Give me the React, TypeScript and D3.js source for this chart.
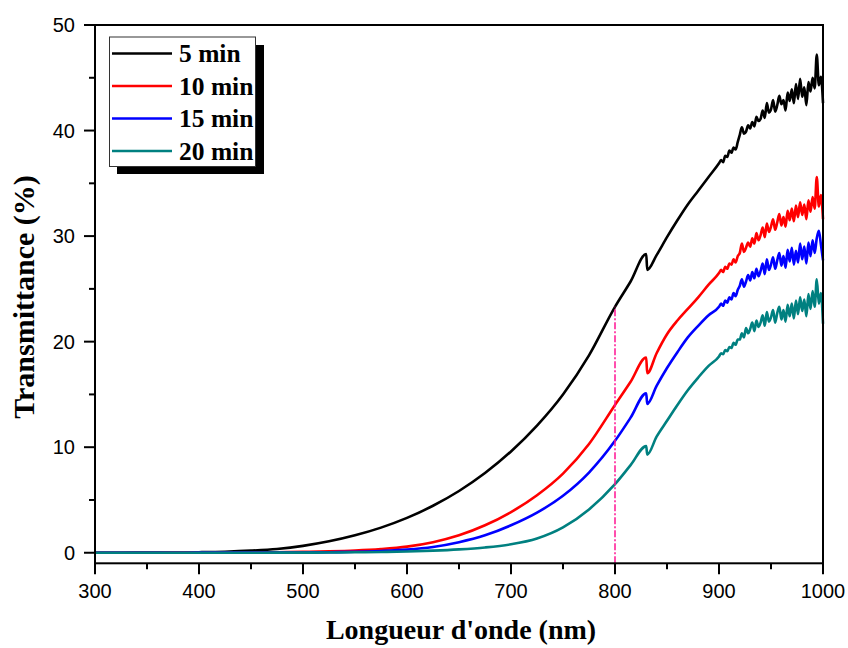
import React from "react"
import { scaleLinear, line, curveMonotoneX } from "d3"

// wavelengths (nm): 25 nm steps where the curves are smooth, 2 nm where they get noisy
const wavelengths = [
  300, 325, 350, 375, 400, 425, 450, 475, 500, 525, 550, 575, 600, 625, 650, 675, 700, 725, 750, 775, 800, 815, 830, 831,
  840, 850, 860, 870, 880, 890,
  900, 902, 904, 906, 908, 910, 912, 914, 916, 918, 920, 922, 924, 926, 928, 930, 932, 934, 936, 938, 940, 942, 944, 946, 948,
  950, 952, 954, 956, 958, 960, 962, 964, 966, 968, 970, 972, 974, 976, 978, 980, 982, 984, 986, 988, 990, 992, 994, 996, 998, 1000,
]

const min5 = [
  0, 0.005, 0.01, 0.02, 0.05, 0.1, 0.2, 0.36, 0.65, 1.08, 1.65, 2.38, 3.3, 4.45, 5.85, 7.55, 9.6, 12.05, 15.0, 18.7, 23.3, 25.7, 28.3, 26.8,
  28.2, 29.9, 31.5, 33.0, 34.3, 35.6,
  36.9, 37.2, 37.0, 37.6, 37.5, 38.1, 37.9, 38.4, 38.2, 38.9, 39.6, 40.3, 39.7, 39.9, 40.5, 40.2, 40.8, 40.4, 41.3, 40.9, 41.1, 41.9, 41.2, 42.6, 41.7,
  42.0, 42.9, 41.8, 42.4, 43.3, 42.5, 42.9, 41.9, 43.6, 42.8, 43.9, 42.6, 44.4, 43.0, 44.9, 43.2, 44.1, 42.4, 44.6, 43.7, 45.0, 44.0, 47.2, 44.3, 45.1, 42.6,
]
const min10 = [
  0, 0, 0, 0.01, 0.01, 0.02, 0.03, 0.05, 0.08, 0.13, 0.21, 0.35, 0.58, 1.0, 1.65, 2.6, 3.85, 5.45, 7.5, 10.3, 14.0, 16.2, 18.5, 17.0,
  18.9, 20.7, 22.0, 23.1, 24.2, 25.4,
  26.5, 26.8, 26.6, 27.1, 26.9, 27.4, 27.3, 27.8, 27.5, 28.1, 28.4, 29.3, 28.5, 28.9, 29.4, 29.0, 29.8, 29.3, 30.3, 29.6, 30.1, 30.8, 29.9, 31.2, 30.4,
  30.9, 31.6, 30.6, 31.3, 32.1, 31.0, 31.8, 30.9, 32.4, 31.5, 32.6, 31.4, 32.9, 31.8, 33.2, 32.0, 33.0, 31.6, 33.4, 32.3, 33.7, 32.6, 35.6, 32.8, 33.9, 31.6,
]
const min15 = [
  0, 0, 0, 0, 0.01, 0.01, 0.01, 0.02, 0.03, 0.05, 0.09, 0.17, 0.3, 0.55, 1.0, 1.65, 2.6, 3.8, 5.4, 7.6, 10.6, 12.8, 15.1, 14.1,
  15.8, 17.5, 19.0, 20.4, 21.5, 22.5,
  23.3, 23.6, 23.4, 23.9, 23.7, 24.2, 24.0, 24.6, 24.3, 24.9, 25.3, 25.9, 25.2, 25.7, 26.3, 25.8, 26.6, 26.0, 26.9, 26.2, 26.7, 27.4, 26.4, 27.8, 26.8,
  27.3, 28.0, 26.9, 27.7, 28.4, 27.2, 28.1, 27.0, 28.7, 27.6, 28.9, 27.3, 28.6, 27.5, 29.3, 27.8, 29.0, 27.4, 29.4, 28.1, 29.6, 28.4, 29.8, 30.5, 29.2, 27.7,
]
const min20 = [
  0, 0, 0, 0, 0, 0, 0, 0.01, 0.01, 0.02, 0.04, 0.07, 0.12, 0.2, 0.32, 0.5, 0.8, 1.35, 2.4, 4.1, 6.5, 8.3, 10.1, 9.3,
  11.0, 12.5, 14.0, 15.4, 16.6, 17.7,
  18.6, 18.9, 18.8, 19.2, 19.1, 19.5, 19.4, 19.9, 19.7, 20.2, 20.2, 20.8, 20.4, 21.3, 20.8, 21.2, 21.8, 21.0, 22.0, 21.4, 21.8, 22.5, 21.5, 22.8, 21.9,
  22.3, 23.0, 21.8, 22.7, 23.3, 22.1, 23.0, 21.9, 23.5, 22.4, 23.6, 22.2, 23.9, 22.6, 24.2, 22.9, 24.0, 22.4, 24.5, 23.1, 24.8, 23.3, 25.9, 23.6, 24.6, 21.7,
]

const seriesNames = ["5 min", "10 min", "15 min", "20 min"]
const seriesValues = [min5, min10, min15, min20]
const seriesColors = ["#000000", "#ff0000", "#0000ff", "#008080"]

const markerWavelength = 800

const App = () => {
  const width = 848
  const height = 648
  const left = 95
  const right = 823
  const top = 25
  const bottom = 563.3

  const x = scaleLinear().domain([300, 1000]).range([left, right])
  const y = scaleLinear().domain([-1, 50]).range([bottom, top])

  const path = line<number>()
    .x((d, i) => x(wavelengths[i]))
    .y((d) => y(d))
    .curve(curveMonotoneX)

  const markerY = min5[wavelengths.indexOf(markerWavelength)]

  const tickFont = "'Liberation Sans', Arial, sans-serif"
  const titleFont = "'Liberation Serif', 'Times New Roman', serif"

  return (
    <svg width={width} height={height} style={{ position: "absolute", left: 0, top: 0, background: "#fff" }}>
      <rect width={width} height={height} fill="#fff" />

      {seriesValues.map((vals, k) => (
        <path key={k} d={path(vals) || ""} fill="none" stroke={seriesColors[k]} strokeWidth={2.6} strokeLinejoin="round" />
      ))}

      <line
        x1={x(markerWavelength)}
        x2={x(markerWavelength)}
        y1={bottom}
        y2={y(markerY)}
        stroke="#ff1493"
        strokeWidth={1.5}
        strokeDasharray="7,2,2,2"
      />

      {/* frame */}
      <rect x={left} y={top} width={right - left} height={bottom - top} fill="none" stroke="#000" strokeWidth={2} />

      {/* x ticks */}
      {x.ticks(14).map((t) => (
        <line key={"xm" + t} x1={x(t)} x2={x(t)} y1={bottom} y2={bottom + (t % 100 === 0 ? 11 : 6)} stroke="#000" strokeWidth={2} />
      ))}
      {x.ticks(7).map((t) => (
        <text key={"xl" + t} x={x(t)} y={bottom + 35} textAnchor="middle" fontFamily={tickFont} fontSize={20}>
          {t}
        </text>
      ))}

      {/* y ticks */}
      {y.ticks(10).map((t) => (
        <line key={"ym" + t} x1={left} x2={left - (t % 10 === 0 ? 11 : 6)} y1={y(t)} y2={y(t)} stroke="#000" strokeWidth={2} />
      ))}
      {y.ticks(5).map((t) => (
        <text key={"yl" + t} x={left - 20} y={y(t)} dy="0.36em" textAnchor="end" fontFamily={tickFont} fontSize={20}>
          {t}
        </text>
      ))}

      {/* axis titles */}
      <text x={461} y={639} textAnchor="middle" fontFamily={titleFont} fontWeight="bold" fontSize={28}>
        Longueur d'onde (nm)
      </text>
      <text
        transform={`translate(34, 297) rotate(-90)`}
        textAnchor="middle"
        fontFamily={titleFont}
        fontWeight="bold"
        fontSize={30}
      >
        Transmittance (%)
      </text>

      {/* legend */}
      <rect x={117} y={45} width={147} height={129} fill="#000" />
      <rect x={109.5} y={37} width={146} height={129.5} fill="#fff" stroke="#333" strokeWidth={1} />
      {seriesNames.map((name, k) => (
        <g key={name} transform={`translate(112, ${53.5 + k * 32.5})`}>
          <line x1={0} x2={60} stroke={seriesColors[k]} strokeWidth={2.6} />
          <text x={67} dy="0.35em" fontFamily={titleFont} fontWeight="bold" fontSize={25.5}>
            {name}
          </text>
        </g>
      ))}
    </svg>
  )
}

export default App
